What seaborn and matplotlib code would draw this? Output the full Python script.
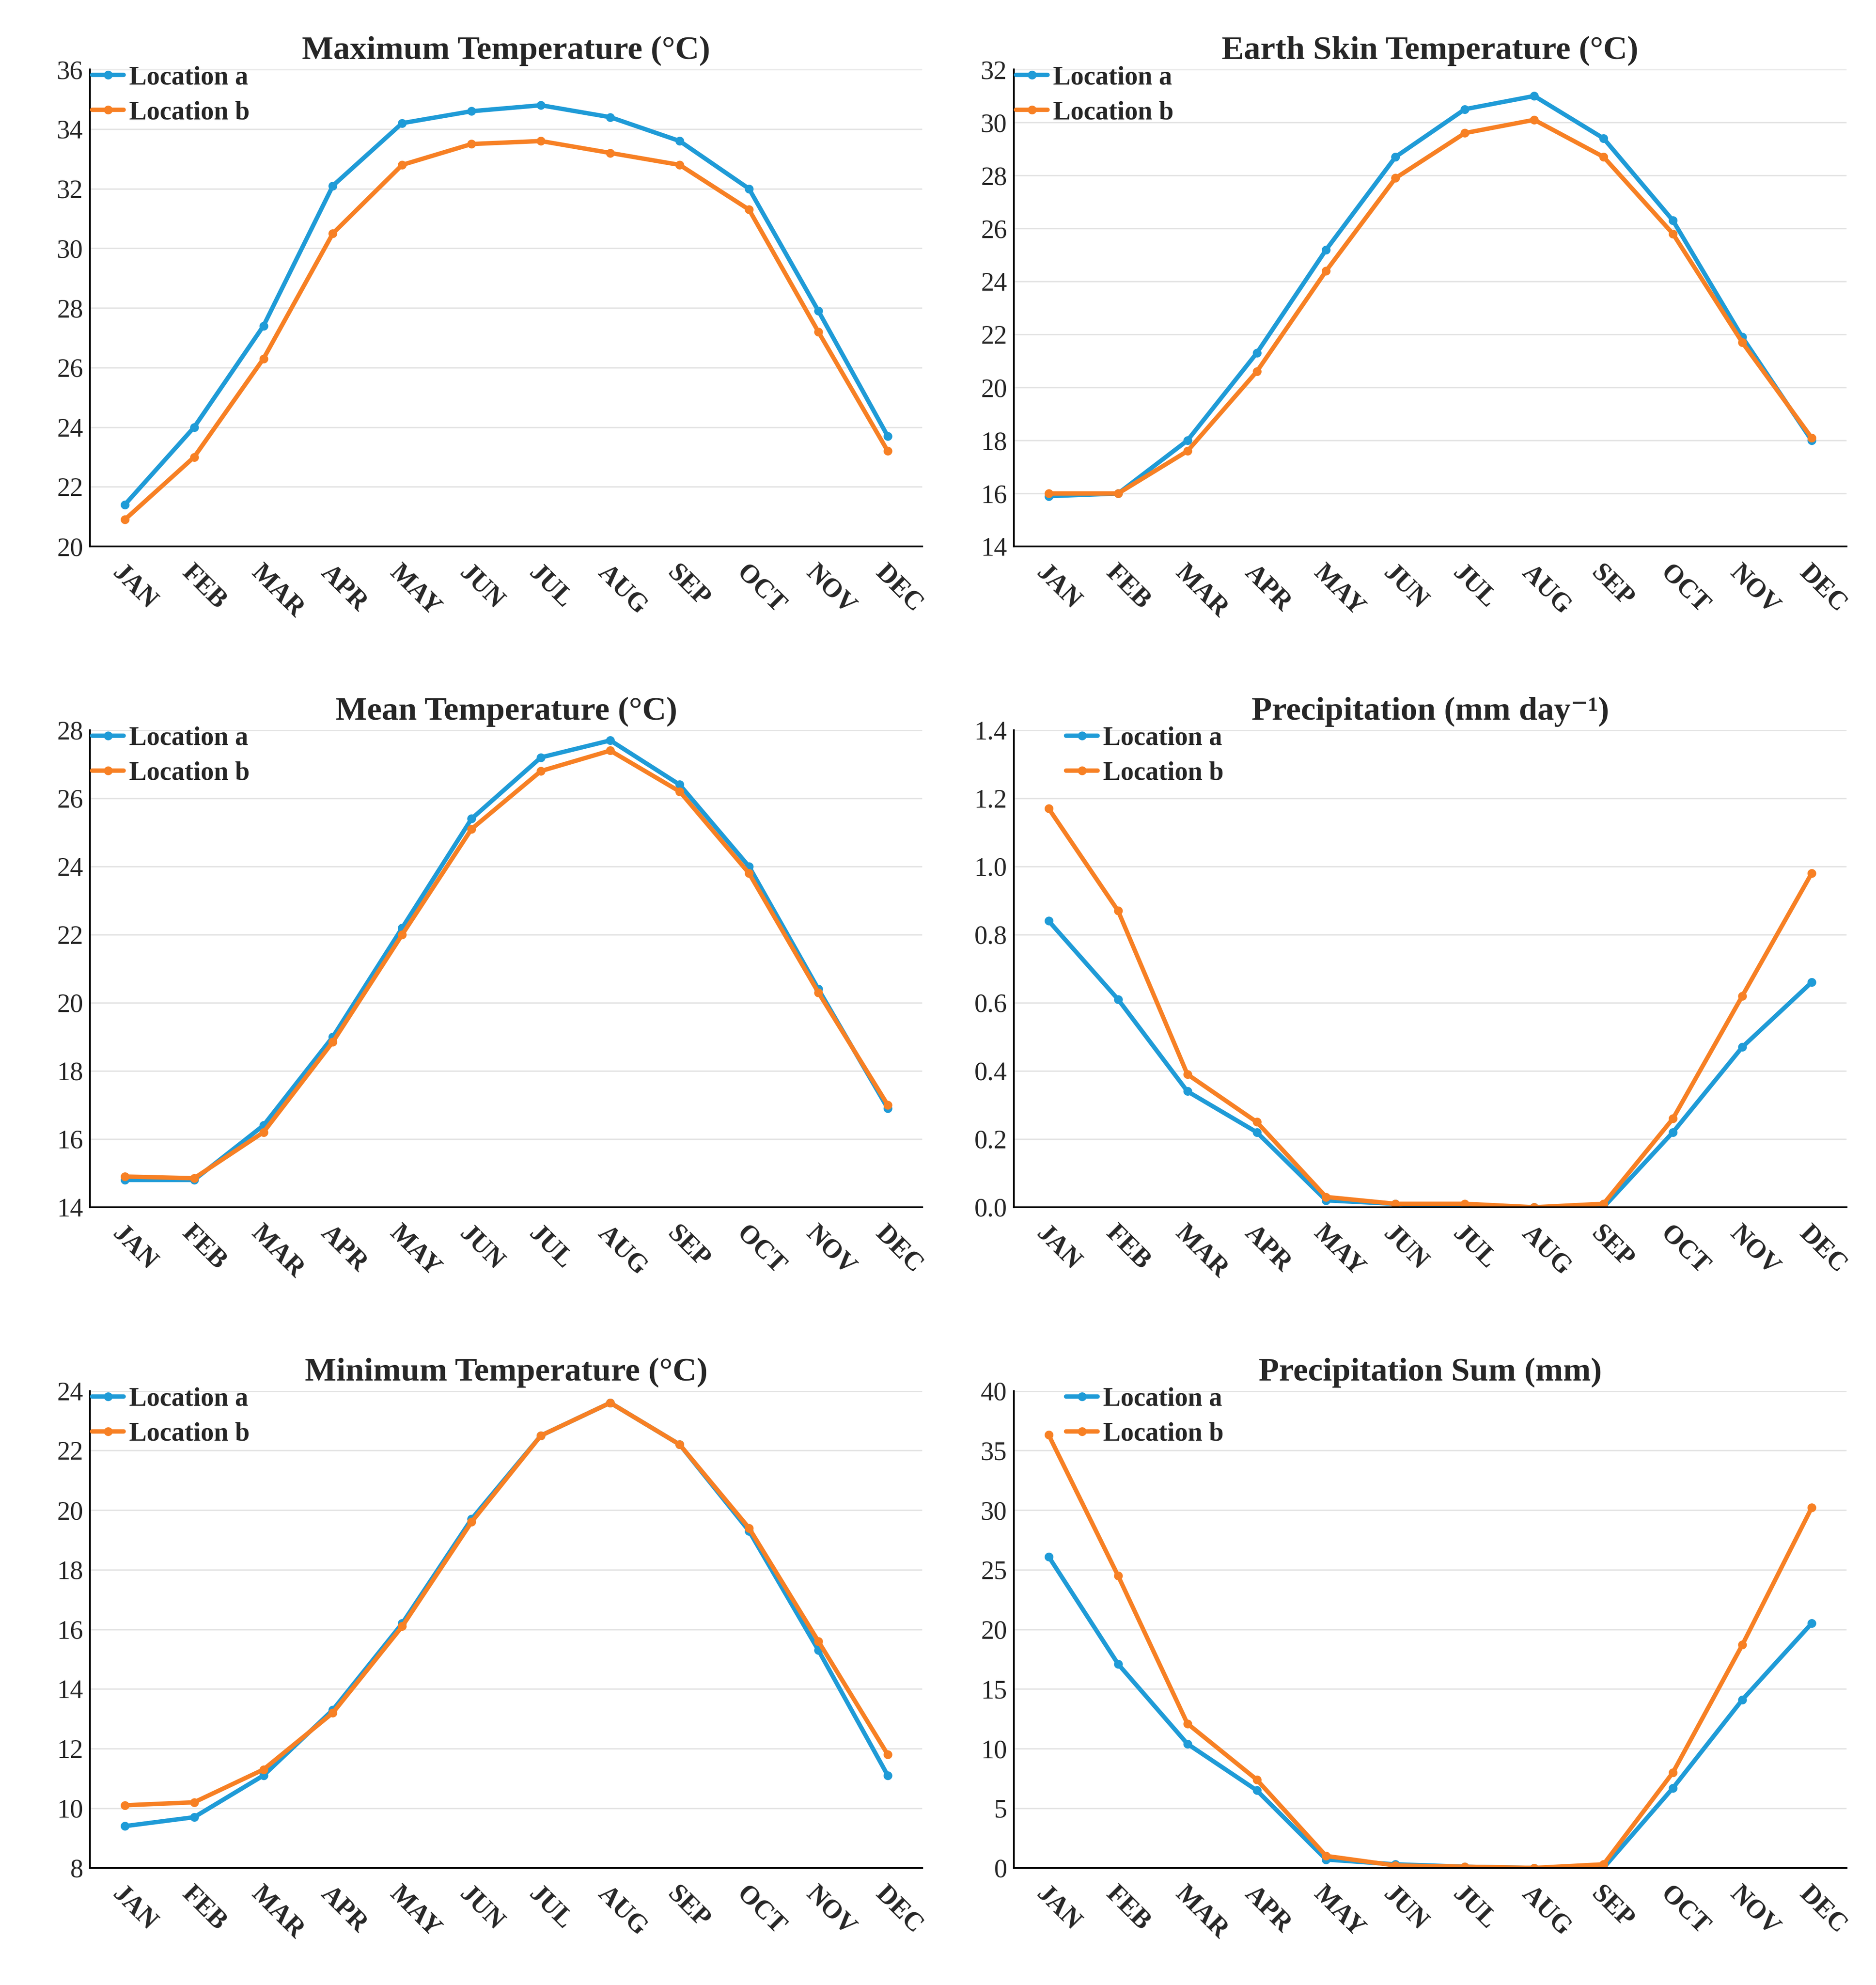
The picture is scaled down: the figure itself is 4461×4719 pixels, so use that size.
import pandas as pd
import numpy as np
import matplotlib
matplotlib.use("Agg")
import matplotlib.pyplot as plt
import seaborn as sns

months = ["JAN", "FEB", "MAR", "APR", "MAY", "JUN", "JUL", "AUG", "SEP", "OCT", "NOV", "DEC"]

tmax_a = [21.4, 24.0, 27.4, 32.1, 34.2, 34.6, 34.8, 34.4, 33.6, 32.0, 27.9, 23.7]
tmax_b = [20.9, 23.0, 26.3, 30.5, 32.8, 33.5, 33.6, 33.2, 32.8, 31.3, 27.2, 23.2]
skin_a = [15.9, 16.0, 18.0, 21.3, 25.2, 28.7, 30.5, 31.0, 29.4, 26.3, 21.9, 18.0]
skin_b = [16.0, 16.0, 17.6, 20.6, 24.4, 27.9, 29.6, 30.1, 28.7, 25.8, 21.7, 18.1]
tmean_a = [14.8, 14.8, 16.4, 19.0, 22.2, 25.4, 27.2, 27.7, 26.4, 24.0, 20.4, 16.9]
tmean_b = [14.9, 14.85, 16.2, 18.85, 22.0, 25.1, 26.8, 27.4, 26.2, 23.8, 20.3, 17.0]
prec_a = [0.84, 0.61, 0.34, 0.22, 0.02, 0.01, 0.0, 0.0, 0.0, 0.22, 0.47, 0.66]
prec_b = [1.17, 0.87, 0.39, 0.25, 0.03, 0.01, 0.01, 0.0, 0.01, 0.26, 0.62, 0.98]
tmin_a = [9.4, 9.7, 11.1, 13.3, 16.2, 19.7, 22.5, 23.6, 22.2, 19.3, 15.3, 11.1]
tmin_b = [10.1, 10.2, 11.3, 13.2, 16.1, 19.6, 22.5, 23.6, 22.2, 19.4, 15.6, 11.8]
psum_a = [26.1, 17.1, 10.4, 6.5, 0.7, 0.3, 0.1, 0.0, 0.0, 6.7, 14.1, 20.5]
psum_b = [36.3, 24.5, 12.1, 7.4, 1.0, 0.2, 0.1, 0.0, 0.3, 8.0, 18.7, 30.2]

panels = [
    ("Maximum Temperature (°C)", tmax_a, tmax_b, (20, 36), 2, "{:.0f}"),
    ("Earth Skin Temperature (°C)", skin_a, skin_b, (14, 32), 2, "{:.0f}"),
    ("Mean Temperature (°C)", tmean_a, tmean_b, (14, 28), 2, "{:.0f}"),
    ("Precipitation (mm day⁻¹)", prec_a, prec_b, (0, 1.4), 0.2, "{:.1f}"),
    ("Minimum Temperature (°C)", tmin_a, tmin_b, (8, 24), 2, "{:.0f}"),
    ("Precipitation Sum (mm)", psum_a, psum_b, (0, 40), 5, "{:.0f}"),
]

sns.set_style("white")
plt.rcParams["font.family"] = ["Liberation Serif", "DejaVu Serif"]
plt.rcParams["font.weight"] = "bold"
palette = {"Location a": "#1f9bd7", "Location b": "#f78024"}

fig, axes = plt.subplots(3, 2, figsize=(14.873, 15.73), dpi=300)
for ax, (title, a, b, ylim, step, fmt) in zip(axes.flat, panels):
    df = pd.DataFrame({
        "month": list(range(12)) * 2,
        "value": a + b,
        "loc": ["Location a"] * 12 + ["Location b"] * 12,
    })
    sns.lineplot(data=df, x="month", y="value", hue="loc", palette=palette,
                 marker="o", markersize=5, markeredgewidth=0, linewidth=2.5, ax=ax)
    ticks = np.arange(ylim[0], ylim[1] + step / 2, step)
    ax.set_ylim(ylim)
    ax.set_yticks(ticks)
    ax.set_yticklabels([fmt.format(t) for t in ticks], fontsize=15, fontweight="normal")
    ax.set_xlim(-0.5, 11.5)
    ax.set_xticks(range(12))
    ax.set_xticklabels(months, rotation=-45, ha="left", rotation_mode="anchor",
                       fontsize=15, fontweight="bold")
    ax.grid(axis="y", color="#e3e3e3", linewidth=0.8)
    ax.set_axisbelow(True)
    for s in ["top", "right"]:
        ax.spines[s].set_visible(False)
    for s in ["left", "bottom"]:
        ax.spines[s].set_color("black")
        ax.spines[s].set_linewidth(1)
    ax.tick_params(axis="y", length=0, pad=4)
    ax.tick_params(axis="x", length=0, pad=8)
    ax.set_xlabel("")
    ax.set_ylabel("")
    ax.set_title(title, fontsize=19, fontweight="bold", pad=6)
    anchor = (0.05, 1.03) if "Precip" in title else (-0.01, 1.03)
    ax.legend(loc="upper left", bbox_to_anchor=anchor, frameon=False,
              prop={"size": 15, "weight": "bold"}, handlelength=1.2,
              handletextpad=0.2, labelspacing=0.4, borderaxespad=0)

plt.subplots_adjust(left=0.048, right=0.984, top=0.965, bottom=0.059,
                    hspace=0.385, wspace=0.11)
plt.savefig("out.png")
